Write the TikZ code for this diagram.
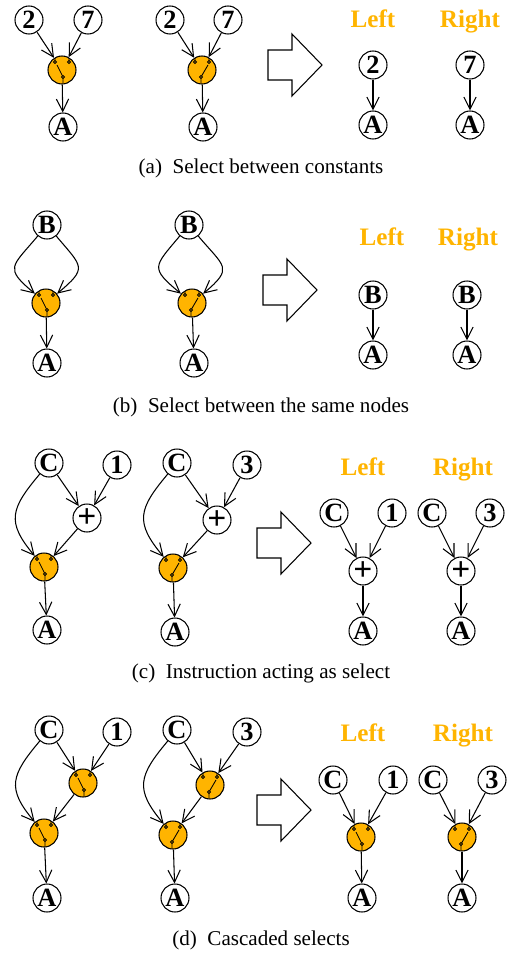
\documentclass[tikz,border=0pt]{standalone}
\usepackage{fontspec}
\setmainfont{Liberation Serif}
\usetikzlibrary{arrows.meta}
\definecolor{selorange}{RGB}{255,180,0}

\tikzset{
  % switch drawn inside a select node, lever on the left input
  swl/.pic={
    \draw[line width=0.5pt] (-7,8) -- (-7,12) (7,8) -- (7,12) (1,-8) -- (1,-13.5) (1,-7) -- (-5,5);
    \draw[line width=0.5pt,fill=selorange] (-7,8) circle (0.9pt) (7,8) circle (0.9pt) (1,-7) circle (0.9pt);
  },
  % same, lever on the right input
  swr/.pic={
    \draw[line width=0.5pt] (-7,8) -- (-7,12) (7,8) -- (7,12) (-1,-8) -- (-1,-13.5) (-1,-7) -- (6,5);
    \draw[line width=0.5pt,fill=selorange] (-7,8) circle (0.9pt) (7,8) circle (0.9pt) (-1,-7) circle (0.9pt);
  },
  bigarrow/.pic={
    \draw (0,15) -- (24,15) -- (24,31) -- (54,0) -- (24,-31) -- (24,-15) -- (0,-15) -- cycle;
  }
}

\begin{document}
\begin{tikzpicture}[x=0.02cm,y=0.02cm,line width=0.6pt,
  >={Straight Barb[length=7pt,width=7pt]},
  op/.style={draw,circle,minimum size=0.56cm,inner sep=0pt,font=\bfseries\fontsize{15}{15}\selectfont},
  add/.style={op,font=\bfseries\fontsize{19}{19}\selectfont},
  mux/.style={op,fill=selorange},
  tag/.style={anchor=base,text=selorange,font=\bfseries\fontsize{14.3}{14.3}\selectfont},
  subcap/.style={font=\fontsize{12}{14}\selectfont}]
\useasboundingbox (0,0) rectangle (512,-953);

% (a) constants
\node[op] (a2) at (29,-20) {2};
\node[op] (a7) at (88,-20) {7};
\node[mux] (as) at (62,-70) {};
\node[op] (aA) at (63,-127) {A};
\pic at (as) {swl};
\draw[->] (a2) -- (as);
\draw[->] (a7) -- (as);
\draw[->] (as) -- (aA);
\node[op] (a2r) at (170,-20) {2};
\node[op] (a7r) at (228,-20) {7};
\node[mux] (asr) at (202,-70) {};
\node[op] (aAr) at (203,-127) {A};
\pic at (asr) {swr};
\draw[->] (a2r) -- (asr);
\draw[->] (a7r) -- (asr);
\draw[->] (asr) -- (aAr);
\pic at (268,-65) {bigarrow};
\node[tag] (al) at (373,-28) {Left};
\node[tag] (ar) at (470,-28) {Right};
\node[op] (al2) at (373,-65) {2};
\node[op] (alA) at (373,-125) {A};
\node[op] (ar7) at (470,-65) {7};
\node[op] (arA) at (470,-125) {A};
\draw[->] (al2) -- (alA);
\draw[->] (ar7) -- (arA);
\node[subcap] (acap) at (261,-168) {(a)\enspace Select between constants};

% (b) same node on both inputs
\node[op] (bB) at (47,-225) {B};
\node[mux] (bs) at (46,-303) {};
\node[op] (bA) at (47,-363) {A};
\pic at (bs) {swl};
\draw[->] (bB) to[out=230,in=140,looseness=1.8] (bs);
\draw[->] (bB) to[out=-50,in=40,looseness=1.8] (bs);
\draw[->] (bs) -- (bA);
\node[op] (bBr) at (189,-225) {B};
\node[mux] (bsr) at (192,-303) {};
\node[op] (bAr) at (194,-363) {A};
\pic at (bsr) {swr};
\draw[->] (bBr) to[out=230,in=140,looseness=1.8] (bsr);
\draw[->] (bBr) to[out=-50,in=40,looseness=1.8] (bsr);
\draw[->] (bsr) -- (bAr);
\pic at (263,-290) {bigarrow};
\node[tag] (bl) at (382,-245) {Left};
\node[tag] (br) at (468,-245) {Right};
\node[op] (blB) at (373,-295) {B};
\node[op] (blA) at (373,-355) {A};
\node[op] (brB) at (467,-295) {B};
\node[op] (brA) at (467,-355) {A};
\draw[->] (blB) -- (blA);
\draw[->] (brB) -- (brA);
\node[subcap] (bcap) at (261,-407) {(b)\enspace Select between the same nodes};

% (c) add acting as select
\node[op] (cC) at (49,-463) {C};
\node[op] (c1) at (117,-465) {1};
\node[add] (cp) at (87,-518) {+};
\node[mux] (cs) at (44,-567) {};
\node[op] (cA) at (47,-630) {A};
\pic at (cs) {swl};
\draw[->] (cC) -- (cp);
\draw[->] (c1) -- (cp);
\draw[->] (cC) to[out=230,in=130,looseness=1.4] (cs);
\draw[->] (cp) -- (cs);
\draw[->] (cs) -- (cA);
\node[op] (cCr) at (177,-463) {C};
\node[op] (c3r) at (247,-465) {3};
\node[add] (cpr) at (217,-520) {+};
\node[mux] (csr) at (173,-568) {};
\node[op] (cAr) at (175,-632) {A};
\pic at (csr) {swr};
\draw[->] (cCr) -- (cpr);
\draw[->] (c3r) -- (cpr);
\draw[->] (cCr) to[out=230,in=130,looseness=1.4] (csr);
\draw[->] (cpr) -- (csr);
\draw[->] (csr) -- (cAr);
\pic at (257,-543) {bigarrow};
\node[tag] (cl) at (363,-475) {Left};
\node[tag] (cr) at (463,-475) {Right};
\node[op] (clC) at (334,-513) {C};
\node[op] (cl1) at (392,-513) {1};
\node[add] (clp) at (363,-571) {+};
\node[op] (clA) at (363,-631) {A};
\draw[->] (clC) -- (clp);
\draw[->] (cl1) -- (clp);
\draw[->] (clp) -- (clA);
\node[op] (crC) at (432,-513) {C};
\node[op] (cr3) at (490,-513) {3};
\node[add] (crp) at (461,-571) {+};
\node[op] (crA) at (461,-631) {A};
\draw[->] (crC) -- (crp);
\draw[->] (cr3) -- (crp);
\draw[->] (crp) -- (crA);
\node[subcap] (ccap) at (261,-673) {(c)\enspace Instruction acting as select};

% (d) two selects in a row
\node[op] (dC) at (49,-730) {C};
\node[op] (d1) at (117,-732) {1};
\node[mux] (du) at (83,-783) {};
\node[mux] (ds) at (44,-833) {};
\node[op] (dA) at (47,-898) {A};
\pic at (du) {swl};
\pic at (ds) {swl};
\draw[->] (dC) -- (du);
\draw[->] (d1) -- (du);
\draw[->] (dC) to[out=230,in=130,looseness=1.4] (ds);
\draw[->] (du) -- (ds);
\draw[->] (ds) -- (dA);
\node[op] (dCr) at (177,-730) {C};
\node[op] (d3r) at (247,-732) {3};
\node[mux] (dur) at (210,-785) {};
\node[mux] (dsr) at (173,-835) {};
\node[op] (dAr) at (175,-898) {A};
\pic at (dur) {swr};
\pic at (dsr) {swr};
\draw[->] (dCr) -- (dur);
\draw[->] (d3r) -- (dur);
\draw[->] (dCr) to[out=230,in=130,looseness=1.4] (dsr);
\draw[->] (dur) -- (dsr);
\draw[->] (dsr) -- (dAr);
\pic at (257,-810) {bigarrow};
\node[tag] (dl) at (363,-741) {Left};
\node[tag] (dr) at (463,-741) {Right};
\node[op] (dlC) at (333,-780) {C};
\node[op] (dl1) at (393,-780) {1};
\node[mux] (dls) at (361,-837) {};
\node[op] (dlA) at (362,-898) {A};
\pic at (dls) {swl};
\draw[->] (dlC) -- (dls);
\draw[->] (dl1) -- (dls);
\draw[->] (dls) -- (dlA);
\node[op] (drC) at (433,-780) {C};
\node[op] (dr3) at (492,-780) {3};
\node[mux] (drs) at (462,-837) {};
\node[op] (drA) at (462,-898) {A};
\pic at (drs) {swr};
\draw[->] (drC) -- (drs);
\draw[->] (dr3) -- (drs);
\draw[->] (drs) -- (drA);
\node[subcap] (dcap) at (261,-940) {(d)\enspace Cascaded selects};
\end{tikzpicture}
\end{document}
